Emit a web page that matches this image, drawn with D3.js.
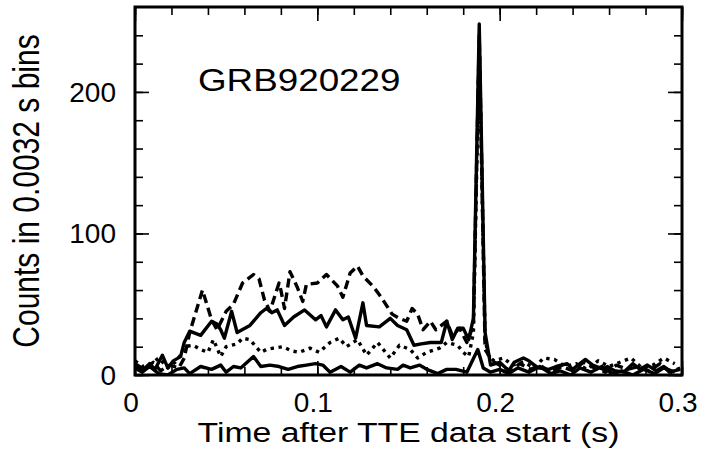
<!DOCTYPE html>
<html><head><meta charset="utf-8">
<script src="https://cdn.jsdelivr.net/npm/d3@7"></script>
<style>body{margin:0;background:#fff}svg{display:block}text{font-family:"Liberation Sans",Arial,Helvetica,sans-serif;fill:#000}</style>
</head><body><svg id="c" width="701" height="464"></svg>
<script>
// ---- data ----
const xTicks = [0, 0.1, 0.2, 0.3];
const xTickLabels = ["0", "0.1", "0.2", "0.3"];
const yTicks = [0, 100, 200];
const yTickLabels = ["0", "100", "200"];
const title = "GRB920229";
const xLabel = "Time after TTE data start (s)";
const yLabel = "Counts in 0.0032 s bins";

const solidT = [0,0.004,0.008,0.011,0.015,0.018,0.021,0.025,0.027,0.030,0.036,0.042,0.045,0.047,0.049,0.053,0.056,0.063,0.069,0.072,0.075,0.078,0.082,0.087,0.093,0.099,0.102,0.105,0.110,0.114,0.117,0.121,0.125,0.127,0.134,0.140,0.144,0.149,0.153,0.157,0.162,0.168,0.171,0.174,0.177,0.180,0.183,0.1856,0.1888,0.192,0.195,0.200,0.205,0.208,0.213,0.216,0.221,0.227,0.231,0.237,0.240,0.247,0.251,0.257,0.259,0.263,0.268,0.273,0.277,0.281,0.286,0.290,0.293,0.299];
const solidV = [6,3,8,4,14,5,10,13,23,31,28,38,36,32,26,45,30,35,44,47,44,46,35,41,46,39,42,34,46,39,41,26,51,35,34,40,35,32,21,22,23,23,38,25,33,33,25,40,248,30,7,9,3,9,12,10,5,4,6,8,4,11,7,4,6,3,2,8,4,7,3,6,2,4];

const dashT = [0,0.005,0.010,0.014,0.019,0.024,0.027,0.030,0.037,0.042,0.045,0.050,0.054,0.059,0.065,0.068,0.071,0.074,0.079,0.080,0.082,0.085,0.089,0.092,0.094,0.100,0.105,0.111,0.114,0.118,0.122,0.125,0.131,0.135,0.139,0.141,0.145,0.149,0.152,0.155,0.158,0.162,0.165,0.171,0.174,0.178,0.182,0.1856,0.1888,0.192,0.196,0.201,0.206,0.211,0.217,0.222,0.228,0.234,0.240,0.246,0.252,0.258,0.264,0.270,0.276,0.282,0.288,0.294,0.299];
const dashV = [8,4,9,3,7,5,12,30,60,39,32,45,50,65,71,68,53,45,65,60,47,73,62,52,64,65,71,63,55,72,77,70,62,55,47,43,40,38,47,43,32,38,32,38,28,33,23,35,240,18,10,6,3,8,4,7,2,6,3,9,5,2,7,4,6,3,8,2,5];

const dotT = [0,0.004,0.009,0.013,0.018,0.022,0.025,0.027,0.032,0.036,0.040,0.043,0.047,0.050,0.056,0.059,0.063,0.069,0.072,0.076,0.081,0.086,0.090,0.096,0.101,0.107,0.112,0.116,0.122,0.127,0.133,0.140,0.145,0.151,0.155,0.160,0.167,0.171,0.177,0.180,0.183,0.1856,0.1888,0.192,0.194,0.197,0.202,0.207,0.213,0.219,0.224,0.230,0.236,0.242,0.248,0.254,0.260,0.266,0.272,0.278,0.284,0.290,0.296];
const dotV = [10,6,8,12,5,9,14,20,21,18,16,25,13,20,22,26,25,16,18,19,20,17,16,19,16,23,26,20,25,14,23,12,21,18,12,16,19,23,21,16,13,30,235,25,13,10,12,7,9,5,12,11,6,8,4,10,6,9,12,5,7,12,8];

const lowT = [0,0.004,0.008,0.013,0.018,0.023,0.027,0.030,0.036,0.042,0.047,0.050,0.054,0.058,0.065,0.069,0.074,0.079,0.084,0.089,0.094,0.099,0.103,0.107,0.113,0.118,0.123,0.127,0.133,0.138,0.144,0.147,0.151,0.156,0.160,0.166,0.171,0.176,0.182,0.188,0.191,0.195,0.200,0.205,0.210,0.216,0.222,0.228,0.233,0.239,0.244,0.250,0.256,0.262,0.267,0.273,0.279,0.285,0.290,0.296];
const lowV = [5,2,6,1,0,4,5,1,6,4,7,2,6,5,13,6,7,6,4,6,7,8,7,2,6,2,7,5,8,5,4,7,5,7,4,1,4,4,2,18,5,2,4,1,5,2,6,1,3,0,5,2,6,1,3,0,4,1,5,2];

// ---- layout ----
const L = 135, R = 682, T = 7, B = 375;
const SX = 1.25; // horizontal glyph stretch of the original axis titles
const svg = d3.select("#c");
const x = d3.scaleLinear().domain([0, 0.3]).range([L, R]);
const y = d3.scaleLinear().domain([0, 260]).range([B, T]);

svg.append("defs").append("clipPath").attr("id","clip")
  .append("rect").attr("x",L).attr("y",T).attr("width",R-L).attr("height",B-T);

const line = d3.line().x(d=>x(d[0])).y(d=>y(d[1]));
const g = svg.append("g").attr("clip-path","url(#clip)");
function series(tArr, vArr, dash){
  g.append("path").datum(tArr.map((t,i)=>[t,vArr[i]]))
    .attr("d", line).attr("fill","none").attr("stroke","#000")
    .attr("stroke-width",3.4).attr("stroke-linejoin","round")
    .attr("stroke-dasharray", dash);
}
series(lowT, lowV, null);
series(dotT, dotV, "3.4,4.6");
series(dashT, dashV, "9,5");
series(solidT, solidV, null);

// ---- axes (ticks inward on all four sides) ----
const xMinor = d3.range(0, 0.3001, 0.02);
const yMinor = d3.range(0, 260, 20);
const axB = d3.axisBottom(x).tickValues(xMinor).tickSizeInner(-8).tickSizeOuter(0).tickFormat("");
const axT = d3.axisTop(x).tickValues(xMinor).tickSizeInner(-8).tickSizeOuter(0).tickFormat("");
const axL = d3.axisLeft(y).tickValues(yMinor).tickSizeInner(-8).tickSizeOuter(0).tickFormat("");
const axR = d3.axisRight(y).tickValues(yMinor).tickSizeInner(-8).tickSizeOuter(0).tickFormat("");
const MajB = d3.axisBottom(x).tickValues(xTicks).tickSizeInner(-14).tickSizeOuter(0).tickFormat("");
const MajT = d3.axisTop(x).tickValues(xTicks).tickSizeInner(-14).tickSizeOuter(0).tickFormat("");
const MajL = d3.axisLeft(y).tickValues(yTicks).tickSizeInner(-14).tickSizeOuter(0).tickFormat("");
const MajR = d3.axisRight(y).tickValues(yTicks).tickSizeInner(-14).tickSizeOuter(0).tickFormat("");
[[axB,`translate(0,${B})`],[axT,`translate(0,${T})`],[axL,`translate(${L},0)`],[axR,`translate(${R},0)`],
 [MajB,`translate(0,${B})`],[MajT,`translate(0,${T})`],[MajL,`translate(${L},0)`],[MajR,`translate(${R},0)`]]
.forEach(([a,tr])=>{
  const ga = svg.append("g").attr("transform",tr).call(a);
  ga.select(".domain").remove();
  ga.selectAll("line").attr("stroke","#000").attr("stroke-width",1.6);
});
svg.append("rect").attr("x",L).attr("y",T).attr("width",R-L).attr("height",B-T)
  .attr("fill","none").attr("stroke","#000").attr("stroke-width",3);

// tick labels
xTicks.forEach((v,i)=>{
  svg.append("text").attr("x", x(v)-4).attr("y", 412)
    .attr("text-anchor","middle").attr("font-size",28).text(xTickLabels[i]);
});
yTicks.forEach((v,i)=>{
  svg.append("text").attr("x", 116).attr("y", y(v)+10)
    .attr("text-anchor","end").attr("font-size",28).text(yTickLabels[i]);
});
// axis titles
svg.append("text").attr("transform",`translate(${(L+R)/2},442) scale(${SX},1)`)
  .attr("text-anchor","middle").attr("font-size",27).text(xLabel);
svg.append("text").attr("transform",`translate(39,${(T+B)/2}) rotate(-90) scale(1,${SX})`)
  .attr("text-anchor","middle").attr("font-size",30).text(yLabel);
// label inside
svg.append("text").attr("transform",`translate(198,91) scale(1.15,1)`)
  .attr("font-size",32).text(title);
</script></body></html>
